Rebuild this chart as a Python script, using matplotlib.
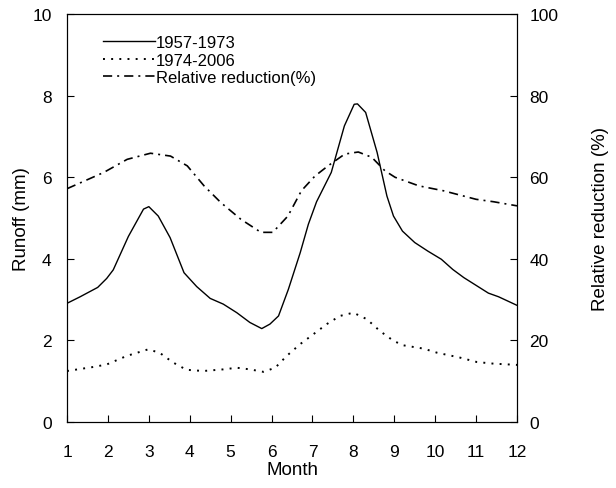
import numpy as np
import matplotlib.pyplot as plt

plt.rcParams['font.family'] = ['Liberation Sans', 'DejaVu Sans']

# Runoff 1957-1973 (mm)
m_pre = [1.0, 1.32, 1.75, 1.97, 2.13, 2.5, 2.87, 3.0, 3.23, 3.52, 3.86, 4.17, 4.5,
         4.82, 5.15, 5.47, 5.76, 5.96, 6.17, 6.41, 6.7, 6.9, 7.1, 7.46, 7.78, 8.02,
         8.1, 8.3, 8.58, 8.82, 8.98, 9.2, 9.5, 9.82, 10.15, 10.43, 10.7, 11.0, 11.3,
         11.55, 12.0]
r_pre = [2.91, 3.07, 3.30, 3.52, 3.73, 4.55, 5.22, 5.28, 5.05, 4.52, 3.66, 3.32, 3.03,
         2.89, 2.68, 2.44, 2.29, 2.40, 2.60, 3.25, 4.15, 4.85, 5.40, 6.12, 7.26, 7.79,
         7.80, 7.59, 6.61, 5.54, 5.05, 4.68, 4.40, 4.19, 3.99, 3.74, 3.54, 3.35, 3.16,
         3.07, 2.86]

# Runoff 1974-2006 (mm)
m_post = [1.0, 1.65, 1.97, 2.46, 2.98, 3.26, 3.59, 3.92, 4.33, 4.82, 5.15, 5.47, 5.8,
          6.09, 6.37, 6.7, 7.02, 7.35, 7.67, 8.0, 8.33, 8.65, 8.98, 9.22, 9.71, 10.04,
          10.6, 11.02, 11.43, 12.0]
r_post = [1.25, 1.35, 1.41, 1.62, 1.78, 1.70, 1.46, 1.28, 1.25, 1.29, 1.33, 1.29, 1.23,
          1.33, 1.62, 1.91, 2.15, 2.40, 2.60, 2.68, 2.52, 2.23, 1.99, 1.88, 1.80, 1.70,
          1.58, 1.47, 1.43, 1.40]

# Relative reduction (%)
m_red = [1.0, 1.9, 2.47, 3.04, 3.53, 3.94, 4.35, 4.76, 5.25, 5.74, 6.03, 6.4, 6.73,
         7.06, 7.38, 7.79, 8.12, 8.45, 8.77, 9.02, 9.6, 10.2, 11.0, 11.43, 12.0]
red = [57.2, 61.2, 64.4, 65.9, 65.2, 62.8, 57.9, 53.8, 49.7, 46.5, 46.5, 50.5, 56.7,
       60.3, 62.8, 65.7, 66.2, 64.9, 61.6, 60.0, 57.9, 56.7, 54.6, 54.0, 53.0]

fig = plt.figure(figsize=(6.16, 4.89), dpi=100)
ax = fig.add_axes([0.1088, 0.135, 0.7305, 0.834])
ax2 = ax.twinx()

l1, = ax.plot(m_pre, r_pre, color='black', lw=1.0, label='1957-1973')
l2, = ax.plot(m_post, r_post, color='black', lw=1.4, linestyle=(0, (1.0, 3.2)),
              label='1974-2006')
l3, = ax2.plot(m_red, red, color='black', lw=1.2, linestyle=(0, (5.5, 3, 1.2, 3)),
               label='Relative reduction(%)')

ax.set_xlim(1, 12)
ax.set_ylim(0, 10)
ax2.set_ylim(0, 100)
ax.set_xticks(np.arange(1, 13))
ax.set_yticks(np.arange(0, 11, 2))
ax2.set_yticks(np.arange(0, 101, 20))

ax.tick_params(direction='in', labelsize=12.5, length=5)
ax2.tick_params(direction='in', labelsize=12.5, length=5)
ax.tick_params(axis='x', pad=16)
ax.tick_params(axis='y', pad=11)
ax2.tick_params(axis='y', pad=9)

ax.set_xlabel('Month', fontsize=13.5, labelpad=1)
ax.set_ylabel('Runoff (mm)', fontsize=13.5, labelpad=2)
ax2.set_ylabel('Relative reduction (%)', fontsize=13.5, labelpad=24)

ax.legend(handles=[l1, l2, l3], loc='upper left', bbox_to_anchor=(0.066, 0.965),
          frameon=False, fontsize=12, handlelength=3.1, handletextpad=0.05,
          labelspacing=0.15, borderaxespad=0)

fig.savefig('out.png', dpi=100)
